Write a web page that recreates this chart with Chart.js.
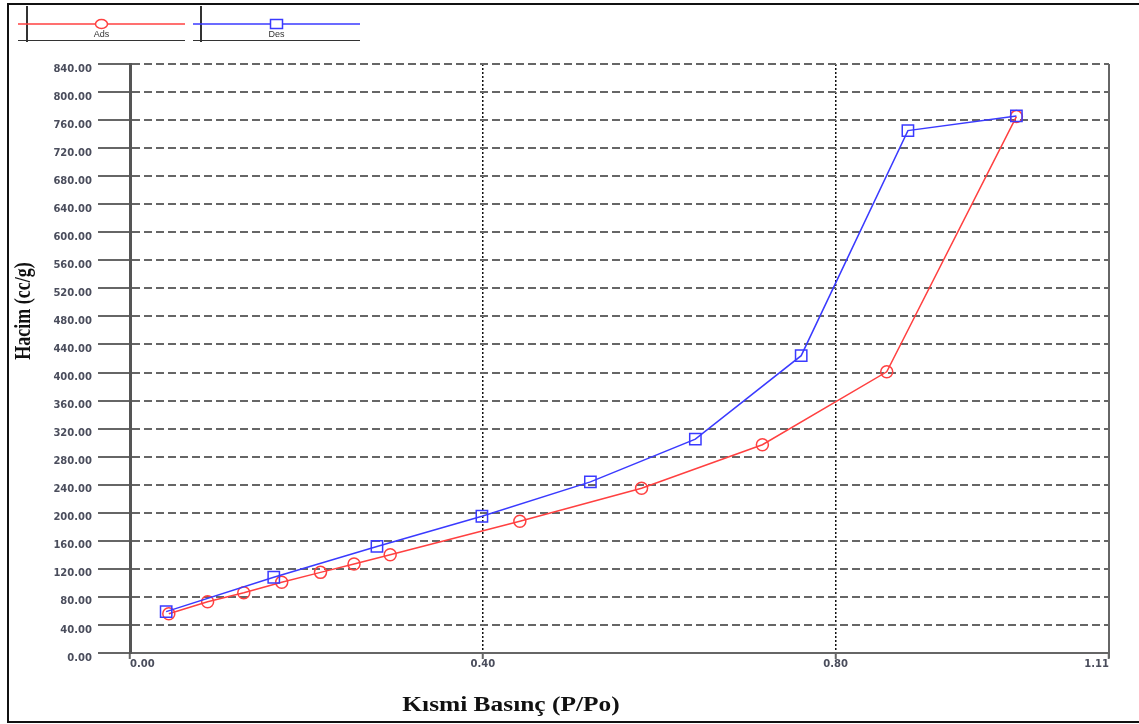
<!DOCTYPE html>
<html>
<head>
<meta charset="utf-8">
<script src="https://cdn.jsdelivr.net/npm/chart.js"></script>
<style>
html, body { margin: 0; padding: 0; background: #fff; }
canvas { display: block; }
</style>
</head>
<body>
<canvas id="iso" width="1139" height="724"></canvas>
<script>
// values
var seriesNames = ["Ads", "Des"];
var adsX = [0.044, 0.088, 0.129, 0.172, 0.216, 0.254, 0.295, 0.442, 0.580, 0.717, 0.858, 1.005];
var adsY = [56, 73, 86, 101, 115, 127, 140, 188, 235, 297, 401, 765];
var desX = [0.041, 0.163, 0.280, 0.399, 0.522, 0.641, 0.761, 0.882, 1.005];
var desY = [59, 108, 152, 195, 244, 305, 424, 745, 766];
var xTicks = [0, 0.40, 0.80, 1.11];
var yMin = 0, yMax = 840, yStep = 40;
var xTitle = "Kısmi Basınç (P/Po)";
var yTitle = "Hacim (cc/g)";

function pts(xs, ys) {
  return xs.map(function (x, i) { return { x: x, y: ys[i] }; });
}

var tickFont = { family: "'DejaVu Sans', sans-serif", size: 10, weight: 'bold' };
var tickColor = '#4a4d5c';

// the source picture is stretched sideways, so the titles are too
var stretch = 1.27;

// page frame, plot right edge, titles and legend
var decor = {
  id: 'decor',
  beforeDraw: function (chart) {
    var c = chart.ctx;
    c.save();
    c.fillStyle = '#fff';
    c.fillRect(0, 0, chart.width, chart.height);
    c.strokeStyle = '#111';
    c.lineWidth = 2;
    c.beginPath();
    c.moveTo(chart.width, 4); c.lineTo(8, 4); c.lineTo(8, 722); c.lineTo(chart.width, 722);
    c.stroke();
    c.restore();
  },
  afterDraw: function (chart) {
    var c = chart.ctx, a = chart.chartArea;
    c.save();
    // right edge of the plot
    c.strokeStyle = '#666';
    c.lineWidth = 2;
    c.beginPath();
    c.moveTo(a.right, a.top); c.lineTo(a.right, a.bottom + 5);
    c.stroke();
    c.restore();

    // axis titles
    c.save();
    c.fillStyle = '#111';
    c.font = "bold 20px 'Liberation Serif', serif";
    c.textAlign = 'center';
    c.textBaseline = 'middle';
    c.translate(511, 706);
    c.scale(stretch, 1);
    c.fillText(xTitle, 0, 0);
    c.restore();

    c.save();
    c.fillStyle = '#111';
    c.font = "bold 18px 'Liberation Serif', serif";
    c.textAlign = 'center';
    c.textBaseline = 'middle';
    c.translate(24, 311);
    c.scale(stretch, 1);
    c.rotate(-Math.PI / 2);
    c.fillText(yTitle, 0, 0);
    c.restore();

    // legend
    c.save();
    var boxes = [{ x0: 18, x1: 185, vx: 27 }, { x0: 193, x1: 360, vx: 201 }];
    chart.data.datasets.slice().sort(function (p, q) { return seriesNames.indexOf(p.label) - seriesNames.indexOf(q.label); })
      .forEach(function (ds, i) {
        var b = boxes[i], mid = (b.x0 + b.x1) / 2;
        c.strokeStyle = '#333';
        c.lineWidth = 2;
        c.beginPath(); c.moveTo(b.vx, 6); c.lineTo(b.vx, 42); c.stroke();
        c.lineWidth = 1;
        c.beginPath(); c.moveTo(b.x0, 40.5); c.lineTo(b.x1, 40.5); c.stroke();
        c.strokeStyle = ds.borderColor;
        c.lineWidth = 1.5;
        c.beginPath(); c.moveTo(b.x0, 24); c.lineTo(b.x1, 24); c.stroke();
        c.fillStyle = '#fff';
        c.beginPath();
        if (ds.pointStyle === 'rect') {
          c.rect(mid - 6, 24 - 4.5, 12, 9);
        } else {
          c.ellipse(mid, 24, 6, 4.5, 0, 0, Math.PI * 2);
        }
        c.fill(); c.stroke();
        c.fillStyle = '#333';
        c.font = "9px 'Liberation Sans', sans-serif";
        c.textAlign = 'center';
        c.textBaseline = 'middle';
        c.fillText(ds.label, mid, 35);
      });
    c.restore();
  }
};

var ctx = document.getElementById('iso').getContext('2d');
var chart = new Chart(ctx, {
  type: 'line',
  data: {
    datasets: [{
      label: seriesNames[0],
      data: pts(adsX, adsY),
      borderColor: '#ff4040',
      backgroundColor: 'rgba(0,0,0,0)',
      borderWidth: 1.5,
      pointStyle: 'circle',
      pointRadius: 6,
      pointBorderWidth: 1.5,
      pointBackgroundColor: 'rgba(0,0,0,0)',
      tension: 0,
      order: 1
    }, {
      label: seriesNames[1],
      data: pts(desX, desY),
      borderColor: '#3a3aff',
      backgroundColor: 'rgba(0,0,0,0)',
      borderWidth: 1.5,
      pointStyle: 'rect',
      pointRadius: 8,
      pointBorderWidth: 1.5,
      pointBackgroundColor: 'rgba(0,0,0,0)',
      tension: 0,
      order: 0
    }]
  },
  options: {
    responsive: false,
    animation: false,
    layout: { padding: { top: 64, right: 30, left: 0, bottom: 0 } },
    plugins: { legend: { display: false }, tooltip: { enabled: false } },
    scales: {
      x: {
        type: 'linear',
        min: xTicks[0],
        max: xTicks[xTicks.length - 1],
        afterBuildTicks: function (s) { s.ticks = xTicks.map(function (v) { return { value: v }; }); },
        afterFit: function (s) { s.height = 71; },
        grid: {
          color: function (c) {
            var v = c.tick ? c.tick.value : null;
            return (v === xTicks[0] || v === xTicks[xTicks.length - 1]) ? 'rgba(0,0,0,0)' : '#111';
          },
          lineWidth: 1.5,
          tickColor: '#666',
          tickWidth: 2,
          tickLength: 6,
          tickBorderDash: []
        },
        border: { color: '#666', width: 2, dash: [2, 2] },
        ticks: {
          align: 'inner',
          maxRotation: 0,
          padding: -1,
          font: tickFont,
          color: tickColor,
          callback: function (v) { return Number(v).toFixed(2); }
        }
      },
      y: {
        type: 'linear',
        min: yMin,
        max: yMax,
        afterFit: function (s) { s.width = 130; },
        grid: {
          color: '#666',
          lineWidth: 2,
          tickColor: '#666',
          tickWidth: 2,
          tickLength: 32,
          tickBorderDash: []
        },
        border: { color: '#555', width: 3, dash: [8, 4] },
        ticks: {
          stepSize: yStep,
          padding: 6,
          labelOffset: 5,
          font: tickFont,
          color: tickColor,
          callback: function (v) { return Number(v).toFixed(2); }
        }
      }
    }
  },
  plugins: [decor]
});
</script>
</body>
</html>
